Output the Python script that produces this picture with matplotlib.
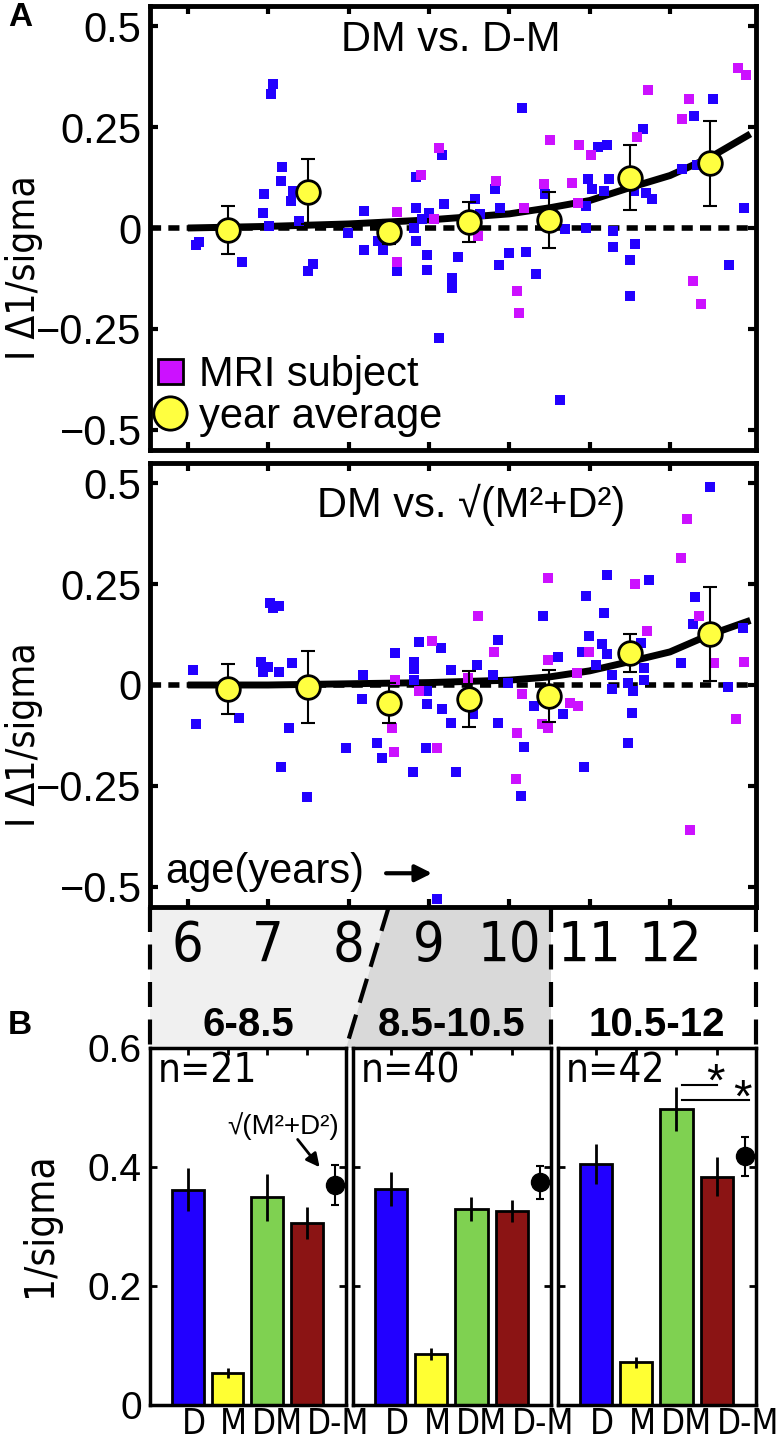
import matplotlib
matplotlib.use('Agg')
import matplotlib.pyplot as plt
from matplotlib import font_manager
from matplotlib.font_manager import FontProperties
from matplotlib.patches import Polygon
from matplotlib.lines import Line2D
from matplotlib.transforms import blended_transform_factory

plt.rcParams['font.family'] = ['Liberation Sans', 'DejaVu Sans']
plt.rcParams['axes.unicode_minus'] = True

# look for a condensed sans face; fall back to Liberation Sans
narrow_file = None
for f in font_manager.fontManager.ttflist:
    fn = f.fname.replace('\\', '/').split('/')[-1]
    if fn.startswith('LiberationSansNarrow-Regular'):
        narrow_file = f.fname
        break
if narrow_file is None:
    for f in font_manager.fontManager.ttflist:
        fn = f.fname.replace('\\', '/').split('/')[-1]
        if fn == 'DejaVuSansCondensed.ttf':
            narrow_file = f.fname
            break


def nfont(size):
    if narrow_file:
        return FontProperties(fname=narrow_file, size=size)
    return FontProperties(family='Liberation Sans', size=size * 0.9)


# ---------------- data: panel A ----------------
years = [6.5, 7.5, 8.5, 9.5, 10.5, 11.5, 12.5]
avg_dminusm = [-0.005, 0.09, -0.01, 0.015, 0.02, 0.125, 0.16]
err_dminusm = [0.06, 0.08, 0.03, 0.05, 0.07, 0.08, 0.105]
avg_sqrt = [-0.01, -0.005, -0.045, -0.035, -0.027, 0.079, 0.126]
err_sqrt = [0.063, 0.09, 0.05, 0.07, 0.065, 0.047, 0.117]

fit_age = [6, 7, 8, 9, 10, 10.5, 11, 11.5, 12, 12.5, 13]
fit_dminusm = [0, 0.004, 0.01, 0.02, 0.035, 0.05, 0.068, 0.1, 0.13, 0.175, 0.233]
fit_sqrt = [0, 0, 0.003, 0.006, 0.012, 0.02, 0.035, 0.058, 0.082, 0.125, 0.16]

top_blue_age = [7.06, 7.03, 7.17, 7.16, 6.95, 7.31, 7.28, 6.93, 7.01, 7.39, 8.19, 7.99, 9.16, 8.84, 9.19,
                8.84, 9.00, 8.91, 8.81, 8.84, 6.10, 6.14, 6.67, 7.56, 7.49, 8.19, 8.43, 8.37, 8.60, 8.98,
                8.98, 9.29, 9.29, 9.36, 9.13, 10.69, 10.96, 11.29, 11.29, 11.57, 11.50, 11.50, 10.00, 10.21,
                9.87, 10.33, 12.74, 10.63, 12.53, 10.16, 12.30, 11.67, 11.11, 11.21, 9.82, 10.98, 11.03,
                11.24, 11.18, 10.45, 12.15, 12.33, 11.55, 11.70, 11.77, 9.57, 9.89, 10.96, 12.92, 9.64]
top_blue_val = [0.356, 0.332, 0.151, 0.116, 0.084, 0.092, 0.067, 0.037, 0.005, 0.017, 0.042, -0.012, 0.181,
                0.126, 0.059, 0.050, 0.037, 0.022, 0.0, -0.032, -0.042, -0.035, -0.084, -0.089, -0.106,
                -0.054, -0.054, -0.032, -0.106, -0.067, -0.104, -0.124, -0.149, -0.072, -0.272, -0.002,
                0.0, -0.007, -0.047, -0.040, -0.079, -0.168, -0.062, -0.059, -0.092, -0.114, -0.092,
                -0.426, 0.319, 0.297, 0.277, 0.245, 0.200, 0.205, 0.097, 0.121, 0.097, 0.121, 0.092,
                0.084, 0.146, 0.156, 0.092, 0.087, 0.072, 0.072, 0.050, 0.054, 0.050, 0.035]
top_mag_age = [9.13, 8.90, 8.60, 9.06, 8.60, 10.10, 10.12, 12.28, 12.38, 9.61, 12.85, 12.95, 11.73, 12.24,
               12.15, 11.59, 10.51, 10.87, 11.02, 9.84, 10.78, 10.43, 10.18, 10.86]
top_mag_val = [0.198, 0.131, 0.040, 0.022, -0.084, -0.156, -0.210, -0.131, -0.188, -0.020, 0.396, 0.379,
               0.342, 0.319, 0.270, 0.225, 0.218, 0.205, 0.181, 0.116, 0.111, 0.109, 0.050, 0.062]

bot_blue_age = [7.02, 7.13, 7.06, 6.07, 6.91, 7.00, 6.93, 7.13, 7.30, 8.18, 8.88, 9.15, 8.58, 8.81, 8.81,
                9.28, 8.81, 12.50, 11.22, 11.74, 10.96, 12.31, 10.42, 11.18, 9.86, 10.99, 12.28, 12.91,
                11.16, 11.22, 10.91, 11.64, 9.60, 10.61, 11.08, 12.14, 9.80, 11.28, 11.68, 11.68, 9.99,
                11.48, 12.72, 6.10, 6.64, 7.26, 8.17, 7.97, 8.35, 8.42, 8.98, 9.16, 9.28, 8.98, 8.96,
                8.80, 9.34, 7.16, 7.48, 9.10, 9.55, 9.86, 10.31, 10.67, 10.18, 10.15, 10.93, 11.28,
                11.54, 11.53, 11.48]
bot_blue_val = [0.203, 0.196, 0.191, 0.037, 0.057, 0.045, 0.032, 0.032, 0.054, 0.025, 0.106, 0.092, 0.079,
                0.057, 0.040, 0.037, 0.012, 0.490, 0.272, 0.260, 0.220, 0.218, 0.171, 0.178, 0.111, 0.121,
                0.151, 0.141, 0.101, 0.077, 0.082, 0.104, 0.050, 0.069, 0.050, 0.054, 0.025, 0.025, 0.042,
                0.012, 0.005, 0.005, -0.005, -0.097, -0.082, -0.106, -0.035, -0.156, -0.144, -0.181,
                -0.047, -0.059, -0.094, -0.015, -0.156, -0.215, -0.215, -0.203, -0.277, -0.530, -0.072,
                -0.094, -0.052, -0.072, -0.153, -0.275, -0.203, -0.010, -0.015, -0.069, -0.144]
bot_mag_age = [9.04, 8.58, 12.21, 12.14, 10.48, 11.57, 9.61, 12.36, 11.72, 9.81, 10.99, 10.48, 10.84, 12.55,
               12.92, 9.49, 8.54, 8.57, 8.88, 9.10, 10.16, 10.76, 10.86, 10.41, 10.48, 10.10, 10.08, 12.82,
               12.25]
bot_mag_val = [0.109, 0.012, 0.411, 0.314, 0.265, 0.250, 0.171, 0.171, 0.134, 0.082, 0.082, 0.062, 0.030,
               0.054, 0.057, 0.017, -0.106, -0.166, -0.015, -0.156, -0.022, -0.045, -0.052, -0.097, -0.106,
               -0.119, -0.233, -0.084, -0.359]

ages = [6, 7, 8, 9, 10, 11, 12]

# ---------------- data: panel B ----------------
groups = ['6-8.5', '8.5-10.5', '10.5-12']
n_subj = [21, 40, 42]
bar_names = ['D', 'M', 'DM', 'D-M']
bar_vals = [[0.362, 0.054, 0.349, 0.306],
            [0.363, 0.086, 0.330, 0.326],
            [0.405, 0.072, 0.498, 0.384]]
bar_errs = [[0.036, 0.008, 0.039, 0.027],
            [0.028, 0.010, 0.020, 0.019],
            [0.033, 0.009, 0.037, 0.032]]
sqrt_vals = [0.370, 0.374, 0.418]
sqrt_errs = [0.034, 0.028, 0.033]

BLUE = '#2200ff'
MAG = '#cc11ff'
YEL = '#ffff40'
bar_colors = ['#2200ff', '#ffff33', '#7fd151', '#8b1414']

W, H = 780, 1452
fig = plt.figure(figsize=(W / 100, H / 100), dpi=100)


def px_axes(l, t, r, b):
    return fig.add_axes([l / W, 1 - b / H, (r - l) / W, (b - t) / H])


axA1 = px_axes(150, 6, 756, 450)
axA2 = px_axes(150, 463, 756, 907)
axB = [px_axes(150, 1048, 346, 1405), px_axes(353, 1048, 551, 1405), px_axes(558, 1048, 756, 1405)]

panelA = [
    (axA1, top_blue_age, top_blue_val, top_mag_age, top_mag_val, fit_dminusm, avg_dminusm, err_dminusm,
     'DM vs. D-M', 0.497, 0.923),
    (axA2, bot_blue_age, bot_blue_val, bot_mag_age, bot_mag_val, fit_sqrt, avg_sqrt, err_sqrt,
     'DM vs. \u221a(M\u00b2+D\u00b2)', 0.53, 0.905),
]

for ax, ba, bv, ma, mv, fit, avg, err, title, tx, ty in panelA:
    ax.axhline(0, color='k', lw=4, dashes=(2.0, 1.3), zorder=2)
    ax.plot(fit_age, fit, color='k', lw=5, solid_capstyle='butt', zorder=3)
    ax.scatter(ba, bv, marker='s', s=44, c=BLUE, linewidths=0, zorder=4)
    ax.scatter(ma, mv, marker='s', s=44, c=MAG, linewidths=0, zorder=4)
    ax.errorbar(years, avg, yerr=err, fmt='none', ecolor='k', elinewidth=1.5, capsize=5, capthick=1.5,
                zorder=5)
    ax.plot(years, avg, 'o', ms=17, mfc=YEL, mec='k', mew=2, zorder=6)
    ax.set_xlim(5.53, 13.07)
    ax.set_ylim(-0.55, 0.55)
    ax.set_xticks(ages)
    ax.set_xticklabels([])
    ax.set_yticks([-0.5, -0.25, 0, 0.25, 0.5])
    ax.set_yticklabels(['\u22120.5', '\u22120.25', '0', '0.25', '0.5'], fontsize=30)
    ax.tick_params(direction='in', length=6, width=3, top=True, right=True, pad=6)
    for sp in ax.spines.values():
        sp.set_linewidth(3.5)
    ax.text(tx, ty, title, transform=ax.transAxes, ha='center', va='center', fontsize=30)

# legend in the top panel
handles = [Line2D([], [], marker='s', ls='none', ms=18, mfc=MAG, mec='k', mew=2),
           Line2D([], [], marker='o', ls='none', ms=24, mfc=YEL, mec='k', mew=2)]
axA1.legend(handles, ['MRI subject', 'year average'], loc='lower left', bbox_to_anchor=(-0.005, 0.02),
            frameon=False, fontsize=30, handlelength=0.9, handletextpad=0.25, labelspacing=0.05,
            borderaxespad=0.0, borderpad=0.1)

axA2.text(0.025, 0.079, 'age(years)', transform=axA2.transAxes, ha='left', va='center', fontsize=30)
axA2.annotate('', xy=(0.47, 0.076), xytext=(0.385, 0.076), xycoords='axes fraction',
              arrowprops=dict(arrowstyle='-|>', lw=3, color='k', mutation_scale=25))

# y labels of panel A
fig.text(24 / W, 1 - 268 / H, 'I \u03941/sigma', rotation=90, ha='center', va='center',
         fontproperties=nfont(28))
fig.text(24 / W, 1 - 735 / H, 'I \u03941/sigma', rotation=90, ha='center', va='center',
         fontproperties=nfont(28))

# ---------------- panel B ----------------
pos = [1, 2, 3, 4]
label_shift = [0.15, 0.15, 0.25, 0.78]
for i, ax in enumerate(axB):
    ax.bar(pos, bar_vals[i], width=0.8, color=bar_colors, edgecolor='k', linewidth=2, zorder=2)
    ax.errorbar(pos, bar_vals[i], yerr=bar_errs[i], fmt='none', ecolor='k', elinewidth=2, capsize=0,
                zorder=3)
    ax.errorbar([4.7], [sqrt_vals[i]], yerr=[sqrt_errs[i]], fmt='o', ms=13, color='k', ecolor='k',
                elinewidth=1.5, capsize=3, capthick=1.5, zorder=4)
    ax.set_xlim(0.05, 4.98)
    ax.set_ylim(0, 0.6)
    ax.set_xticks(pos)
    ax.set_xticklabels([])
    ax.set_yticks([0, 0.2, 0.4, 0.6])
    if i == 0:
        ax.set_yticklabels(['0', '0.2', '0.4', '0.6'], fontsize=28)
    else:
        ax.set_yticklabels([])
    ax.tick_params(direction='in', length=5, width=2, top=True, right=True, bottom=False, pad=6)
    for sp in ax.spines.values():
        sp.set_linewidth(2.5)
    bt = blended_transform_factory(ax.transData, ax.transAxes)
    for p, name, sh in zip(pos, bar_names, label_shift):
        ax.text(p + sh, -0.005, name, transform=bt, ha='center', va='top', fontproperties=nfont(25))
    ax.text(0.04, 0.935, 'n=%d' % n_subj[i], transform=ax.transAxes, ha='left', va='center',
            fontproperties=nfont(29))

fig.text(40 / W, 1 - 1225 / H, '1/sigma', rotation=90, ha='center', va='center', fontproperties=nfont(29))

axB[0].text(3.4, 0.469, '\u221a(M\u00b2+D\u00b2)', ha='center', va='center', fontsize=20)
axB[0].annotate('', xy=(4.36, 0.396), xytext=(3.72, 0.45),
                arrowprops=dict(arrowstyle='-|>', lw=2, color='k', mutation_scale=20))

axB[2].plot([3.14, 4.02], [0.538, 0.538], color='k', lw=1.5)
axB[2].plot([3.14, 4.8], [0.512, 0.512], color='k', lw=1.5)
axB[2].text(3.97, 0.54, '*', ha='center', va='center', fontsize=34)
axB[2].text(4.65, 0.513, '*', ha='center', va='center', fontsize=34)

# ---------------- age strip between A and B ----------------
strip = fig.add_axes([0, 0, 1, 1], zorder=-1)
strip.set_xlim(0, W)
strip.set_ylim(H, 0)
strip.axis('off')


def xpx(ax, x):
    return ax.transData.transform((x, 0))[0]


pA2 = axA2.get_position()
pB = [a.get_position() for a in axB]
y_top = (1 - pA2.y0) * H
y_bot = (1 - pB[0].y1) * H
x_left = pA2.x0 * W
x_right = pA2.x1 * W
x85 = xpx(axA2, 8.5)
xb1 = pB[0].x1 * W
xb2 = pB[1].x1 * W

strip.add_patch(Polygon([(x_left, y_top), (x85, y_top), (xb1, y_bot), (x_left, y_bot)],
                        closed=True, fc='#f0f0f0', ec='none'))
strip.add_patch(Polygon([(x85, y_top), (xb2, y_top), (xb2, y_bot), (xb1, y_bot)],
                        closed=True, fc='#d9d9d9', ec='none'))
for xa, xb in [(x_left, x_left), (x85, xb1), (xb2, xb2), (x_right, x_right)]:
    strip.plot([xa, xb], [y_top, y_bot], color='k', lw=3, dashes=(6, 3))

bt_age = blended_transform_factory(axA2.transData, strip.transData)
for a in ages:
    strip.text(a, 946, str(a), transform=bt_age, ha='center', va='center', fontproperties=nfont(40))
for i, g in enumerate(groups):
    bt_g = blended_transform_factory(axB[i].transAxes, strip.transData)
    strip.text(0.5, 1025, g, transform=bt_g, ha='center', va='center', fontsize=29, fontweight='bold')

fig.text(20 / W, 1 - 18 / H, 'A', ha='center', va='center', fontsize=24, fontweight='bold')
fig.text(20 / W, 1 - 1025 / H, 'B', ha='center', va='center', fontsize=24, fontweight='bold')

fig.savefig('out.png', dpi=100)
